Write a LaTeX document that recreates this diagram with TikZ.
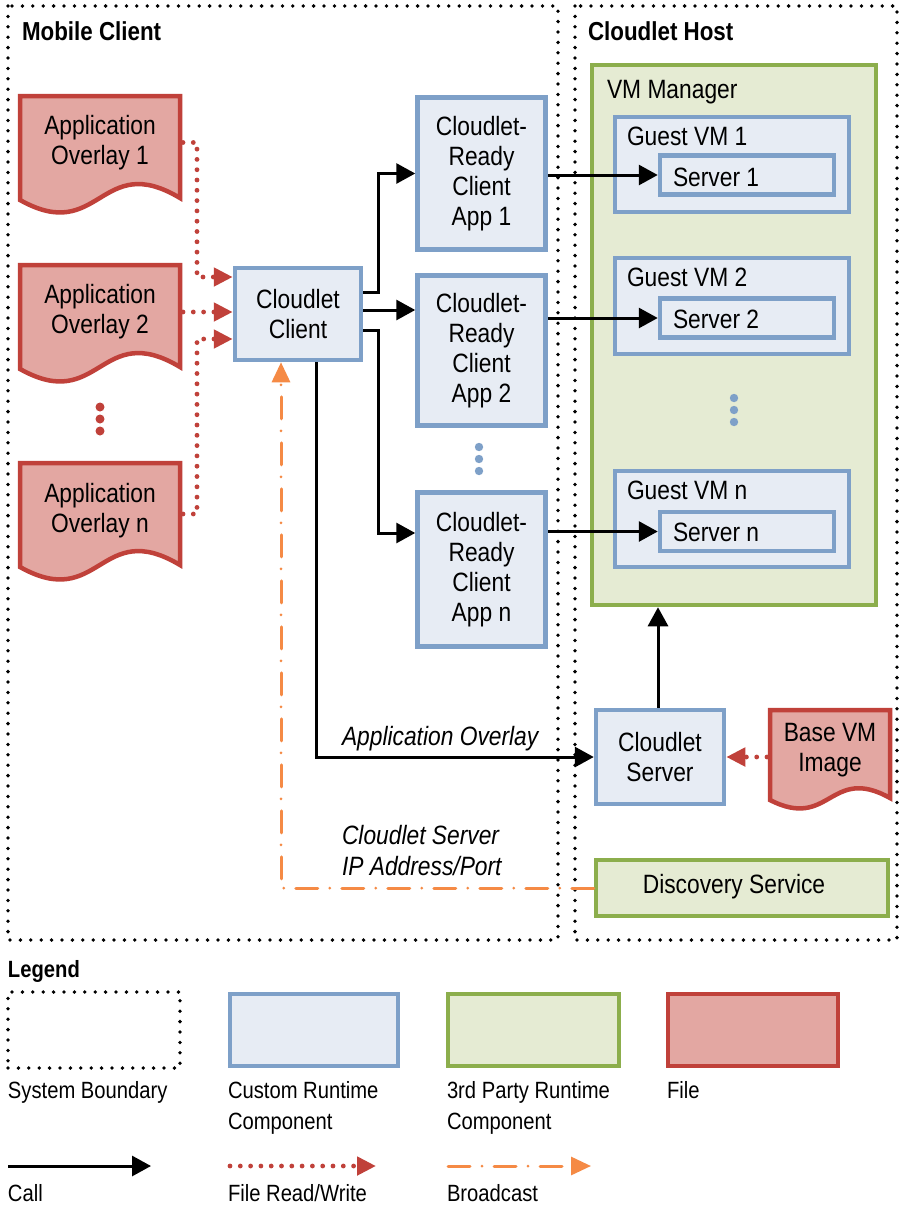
\documentclass[tikz,border=0pt]{standalone}
\usepackage{fontspec}
\setmainfont{Liberation Sans}[FakeStretch=0.86]
\usetikzlibrary{arrows.meta}
\definecolor{bbord}{HTML}{7EA0C8}
\definecolor{bfill}{HTML}{E7ECF4}
\definecolor{gbord}{HTML}{8CAE4C}
\definecolor{gfill}{HTML}{E5EBD3}
\definecolor{rbord}{HTML}{C0413A}
\definecolor{rfill}{HTML}{E3A7A2}
\definecolor{obrd}{HTML}{F58A45}
\newcommand{\docpath}[5]{% x0 y0 w h k
  \path[filedoc] (#1,#2) -- ({#1+#3},#2) -- ({#1+#3},{#2+#4})
    .. controls ({#1+#3/2},{#2+#4-48*#5}) and ({#1+#3/2},{#2+#4+47*#5}) ..
    (#1,{#2+#4+2}) -- cycle;}
\tikzset{
  x=1pt, y=-1pt,
  every node/.style={font=\fontsize{26.5}{30}\selectfont, inner sep=0pt, outer sep=0pt},
  boundary/.style={line width=3.8pt, dash pattern=on 0pt off 10.4pt, line cap=round},
  custom/.style={draw=bbord, fill=bfill, line width=4.5pt, outer sep=2.25pt},
  third/.style={draw=gbord, fill=gfill, line width=4.5pt, outer sep=2.25pt},
  filedoc/.style={draw=rbord, fill=rfill, line width=4.5pt, line join=miter},
  ghost/.style={minimum height=60pt, align=center},
  call/.style={line width=3pt, -{Triangle[length=19pt,width=20pt]}},
  fileio/.style={draw=rbord, line width=4.8pt, dash pattern=on 0pt off 10.3pt, line cap=round,
     -{Triangle[length=19pt,width=18pt,fill=rbord,line cap=butt]}},
  bcast/.style={draw=obrd, line width=3pt, dash pattern=on 22pt off 12pt on 0pt off 12pt, line cap=round,
     -{Triangle[length=20pt,width=18pt,fill=obrd]}},
  title/.style={font=\fontsize{26}{30}\selectfont\bfseries, anchor=base west},
  lbl/.style={anchor=base west},
  leg/.style={font=\fontsize{23.5}{31}\selectfont, anchor=base west, align=left},
  bdot/.style={fill=bbord},
  rdot/.style={fill=rbord},
}
\begin{document}
\begin{tikzpicture}
\useasboundingbox (0,0) rectangle (901,1208);
\fill[white] (0,0) rectangle (901,1208);

% system boundaries
\draw[boundary] (8,6) rectangle (558,940);
\draw[boundary] (575,6) rectangle (897,940);
\node[title] (tmc) at (22,40) {Mobile Client};
\node[title] (tch) at (588,40) {Cloudlet Host};

% files
\docpath{20}{96}{160}{102}{1}
\docpath{20}{265}{160}{102}{1}
\docpath{20}{463}{160}{102}{1}
\docpath{770}{710}{120}{88}{0.7}
\node[ghost, minimum width=166pt] (ov1) at (100,142.5) {Application\\Overlay 1};
\node[ghost, minimum width=166pt] (ov2) at (100,312) {Application\\Overlay 2};
\node[ghost, minimum width=166pt] (ovn) at (100,511) {Application\\Overlay n};
\node[ghost, minimum width=126pt] (base) at (830,750) {Base VM\\Image};
\fill[rdot] (100,407) circle (4.5) (100,419) circle (4.5) (100,431) circle (4.5);

% cloudlet client and apps
\node[custom, minimum width=126pt, minimum height=92pt, align=center] (cc) at (298,314) {Cloudlet\\Client};
\node[custom, minimum width=128pt, minimum height=152pt, align=center] (app1) at (481.5,173.5) {Cloudlet-\\Ready\\Client\\App 1};
\node[custom, minimum width=128pt, minimum height=150pt, align=center] (app2) at (481.5,350.5) {Cloudlet-\\Ready\\Client\\App 2};
\node[custom, minimum width=128pt, minimum height=154pt, align=center] (appn) at (481.5,569.5) {Cloudlet-\\Ready\\Client\\App n};
\fill[bdot] (479,447) circle (4.2) (479,459) circle (4.2) (479,471) circle (4.2);

% VM manager
\node[third, minimum width=284pt, minimum height=540pt] (vmm) at (734,335) {};
\node[lbl] (vmmt) at (607,98) {VM Manager};
\node[custom, minimum width=234pt, minimum height=95pt] (g1) at (732,164.5) {};
\node[custom, minimum width=234pt, minimum height=96pt] (g2) at (732,306) {};
\node[custom, minimum width=234pt, minimum height=96pt] (gn) at (732,519) {};
\node[lbl] (g1t) at (627,145) {Guest VM 1};
\node[lbl] (g2t) at (627,286) {Guest VM 2};
\node[lbl] (gnt) at (627,499) {Guest VM n};
\node[custom, minimum width=174pt, minimum height=39pt] (s1) at (747,175) {};
\node[custom, minimum width=174pt, minimum height=39pt] (s2) at (747,318) {};
\node[custom, minimum width=174pt, minimum height=39pt] (sn) at (747,531.5) {};
\node[lbl] (s1t) at (673,186) {Server 1};
\node[lbl] (s2t) at (673,328) {Server 2};
\node[lbl] (snt) at (673,541) {Server n};
\fill[bdot] (734,398) circle (4.2) (734,410) circle (4.2) (734,422) circle (4.2);

% cloudlet server, discovery
\node[custom, minimum width=128pt, minimum height=94pt, align=center] (cs) at (660,757) {Cloudlet\\Server};
\node[third, minimum width=292pt, minimum height=56pt] (ds) at (742,888) {};
\node (dst) at (734,887) {Discovery Service};

% file read/write arrows
\draw[fileio] (ov1.east) -- ++(14,0) |- ([yshift=37pt]cc.west);
\draw[fileio] (ov2.east) -- (ov2.east -| cc.west);
\draw[fileio] ([yshift=-3pt]ovn.east) -- ++(14,0) |- ([yshift=-25pt]cc.west);
\draw[fileio] (base.west |- cs.east) -- (cs.east);

% calls
\draw[call] ([yshift=22pt]cc.east) -- ++(15,0) |- (app1.west);
\draw[call] ([yshift=4pt]cc.east) -- ([yshift=4pt]cc.east -| app2.west);
\draw[call] ([yshift=-16pt]cc.east) -- ++(15,0) |- ([yshift=36.5pt]appn.west);
\draw[call] (app1.east |- s1.west) -- (s1.west);
\draw[call] (app2.east |- s2.west) -- (s2.west);
\draw[call] (appn.east |- sn.west) -- (sn.west);
\draw[call] ([xshift=18pt]cc.south) |- (cs.west);
\draw[call] ([xshift=-2pt]cs.north) -- ([xshift=-2pt]cs.north |- vmm.south);
\draw[bcast] (ds.west) -| ([xshift=-17pt]cc.south);

\node[anchor=base west, font=\fontsize{26.5}{30}\selectfont\itshape] (lao) at (342,745) {Application Overlay};
\node[anchor=west, align=left, font=\fontsize{26.5}{31}\selectfont\itshape] (lip) at (342,851) {Cloudlet Server\\IP Address/Port};

% legend
\node[title, font=\fontsize{23.5}{30}\selectfont\bfseries] (legt) at (8,977) {Legend};
\node[boundary, draw, minimum width=172pt, minimum height=76pt] (lsb) at (94,1030) {};
\node[custom, minimum width=168pt, minimum height=72pt] (lcr) at (314,1030) {};
\node[third, minimum width=171pt, minimum height=72pt] (l3p) at (533.5,1030) {};
\node[draw=rbord, fill=rfill, line width=4.5pt, minimum width=170pt, minimum height=72pt] (lfi) at (753,1030) {};
\node[leg] (lsbt) at (8,1098) {System Boundary};
\node[leg] (lcrt) at (228,1129) {Custom Runtime\\Component};
\node[leg] (l3pt) at (447,1129) {3rd Party Runtime\\Component};
\node[leg] (lfit) at (667,1098) {File};
\coordinate (ca) at (8,1166); \coordinate (cb) at (151,1166);
\coordinate (fa) at (230,1166); \coordinate (fb) at (376,1166);
\coordinate (ba) at (448,1166); \coordinate (bb) at (591,1166);
\draw[call] (ca) -- (cb);
\draw[fileio] (fa) -- (fb);
\draw[bcast] (ba) -- (bb);
\node[leg] (lct) at (8,1201) {Call};
\node[leg] (lft) at (228,1201) {File Read/Write};
\node[leg] (lbt) at (447,1201) {Broadcast};
\end{tikzpicture}
\end{document}
